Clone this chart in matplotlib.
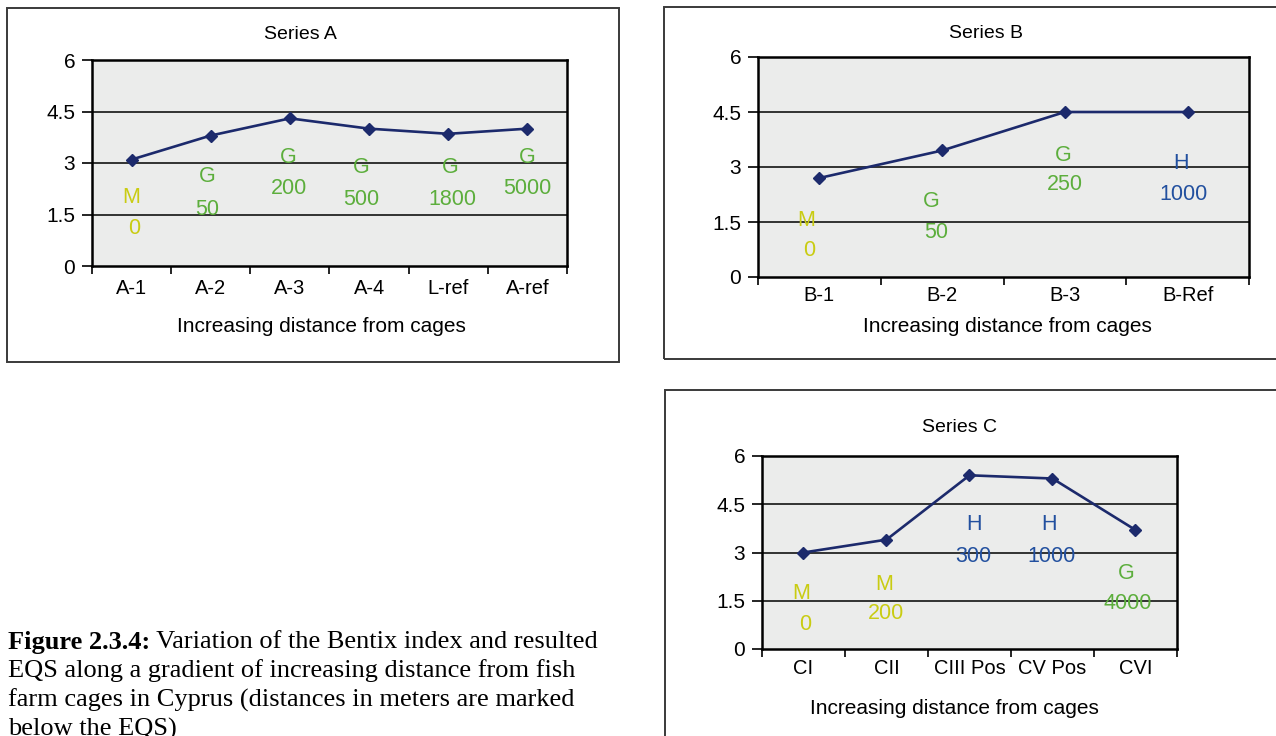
import matplotlib
matplotlib.use("Agg")
import matplotlib.pyplot as plt
from matplotlib.patches import Rectangle

# Bentix index per station, three transects
a_sites = ["A-1", "A-2", "A-3", "A-4", "L-ref", "A-ref"]
a_bentix = [3.1, 3.8, 4.3, 4.0, 3.85, 4.0]
a_eqs = ["M", "G", "G", "G", "G", "G"]
a_dist = ["0", "50", "200", "500", "1800", "5000"]
a_eqs_pos = [(0.0, 2.0), (0.95, 2.6), (1.98, 3.15), (2.9, 2.86), (4.03, 2.86), (5.0, 3.15)]
a_dist_pos = [(0.03, 1.08), (0.96, 1.65), (1.99, 2.25), (2.9, 1.95), (4.05, 1.95), (5.0, 2.25)]

b_sites = ["B-1", "B-2", "B-3", "B-Ref"]
b_bentix = [2.7, 3.45, 4.5, 4.5]
b_eqs = ["M", "G", "G", "H"]
b_dist = ["0", "50", "250", "1000"]
b_eqs_pos = [(-0.11, 1.53), (0.91, 2.05), (1.99, 3.32), (2.95, 3.1)]
b_dist_pos = [(-0.08, 0.72), (0.95, 1.2), (2.0, 2.51), (2.97, 2.26)]

c_sites = ["CI", "CII", "CIII Pos", "CV Pos", "CVI"]
c_bentix = [3.0, 3.4, 5.4, 5.3, 3.7]
c_eqs = ["M", "M", "H", "H", "G"]
c_dist = ["0", "200", "300", "1000", "4000"]
c_eqs_pos = [(-0.03, 1.72), (0.97, 2.0), (2.05, 3.87), (2.96, 3.87), (3.89, 2.36)]
c_dist_pos = [(0.02, 0.77), (1.0, 1.1), (2.05, 2.88), (2.99, 2.88), (3.91, 1.41)]

EQS_COLORS = {"M": "#c9cc12", "G": "#5cae3c", "H": "#22509f"}
LINE = "#1c2a6c"
FACE = "#ebeceb"
W, H = 1276, 736

plt.rcParams["font.family"] = ["Liberation Sans", "DejaVu Sans"]

fig = plt.figure(figsize=(W / 100, H / 100), dpi=100)
fig.patch.set_facecolor("white")


def px_axes(left, top, right, bottom):
    return fig.add_axes([left / W, 1 - bottom / H, (right - left) / W, (bottom - top) / H])


def box(left, top, right, bottom):
    fig.add_artist(Rectangle((left / W, 1 - bottom / H), (right - left) / W,
                             (bottom - top) / H, transform=fig.transFigure,
                             fill=False, ec="#3a3a3a", lw=1.4))


def panel(ax, title, sites, vals, eqs, dist, eqs_pos, dist_pos,
          tick_pad, title_xy, xlabel_xy):
    n = len(sites)
    x = list(range(n))
    ax.set_facecolor(FACE)
    ax.set_xlim(-0.5, n - 0.5)
    ax.set_ylim(0, 6)
    ax.set_yticks([0, 1.5, 3, 4.5, 6])
    ax.set_yticklabels(["0", "1.5", "3", "4.5", "6"])
    for y in (1.5, 3, 4.5):
        ax.axhline(y, color="black", lw=1.1, zorder=1)
    # category boundaries carry the tick marks, names sit between them
    ax.set_xticks([i - 0.5 for i in range(n + 1)])
    ax.set_xticklabels([])
    ax.set_xticks(x, minor=True)
    ax.set_xticklabels(sites, minor=True)
    ax.tick_params(axis="x", which="minor", length=0, pad=tick_pad, labelsize=14.5)
    ax.tick_params(axis="x", which="major", direction="out", length=6, width=1.2)
    ax.tick_params(axis="y", direction="out", length=7, width=1.2, labelsize=15, pad=5)
    for s in ax.spines.values():
        s.set_color("black")
        s.set_linewidth(1.8)
    ax.plot(x, vals, color=LINE, lw=1.9, marker="D", ms=6.5, zorder=3)
    for lab, (px, py) in zip(eqs, eqs_pos):
        ax.text(px, py, lab, color=EQS_COLORS[lab], fontsize=15.5, ha="center", va="center")
    for lab, d, (px, py) in zip(eqs, dist, dist_pos):
        ax.text(px, py, d, color=EQS_COLORS[lab], fontsize=15.5, ha="center", va="center")
    ax.text(*title_xy, title, transform=ax.transAxes, fontsize=14,
            ha="center", va="center")
    ax.text(*xlabel_xy, "Increasing distance from cages", transform=ax.transAxes,
            fontsize=15, ha="center", va="center")


box(7, 8, 619, 362)
box(664, 7, 1290, 359)
box(665, 390, 1290, 750)

ax_a = px_axes(92, 60, 567, 266)
panel(ax_a, "Series A", a_sites, a_bentix, a_eqs, a_dist, a_eqs_pos, a_dist_pos,
      9, (0.438, 1.126), (0.484, -0.296))
ax_b = px_axes(758, 57, 1249, 277)
panel(ax_b, "Series B", b_sites, b_bentix, b_eqs, b_dist, b_eqs_pos, b_dist_pos,
      6.5, (0.464, 1.105), (0.509, -0.227))
ax_c = px_axes(762, 456, 1177, 649)
panel(ax_c, "Series C", c_sites, c_bentix, c_eqs, c_dist, c_eqs_pos, c_dist_pos,
      7, (0.477, 1.150), (0.463, -0.306))

caption = [
    ("Figure 2.3.4:", " Variation of the Bentix index and resulted"),
    ("", "EQS along a gradient of increasing distance from fish"),
    ("", "farm cages in Cyprus (distances in meters are marked"),
    ("", "below the EQS)"),
]
serif = ["Liberation Serif", "DejaVu Serif"]
y0 = 642
for i, (bold, rest) in enumerate(caption):
    yy = 1 - (y0 + i * 29) / H
    t = fig.text(8 / W, yy, bold, family=serif, fontsize=19, fontweight="bold", va="center")
    if bold:
        fig.canvas.draw()
        bb = t.get_window_extent()
        fig.text(bb.x1 / W, yy, rest, family=serif, fontsize=19, va="center")
    else:
        fig.text(8 / W, yy, rest, family=serif, fontsize=19, va="center")

fig.savefig("out.png", dpi=100)
